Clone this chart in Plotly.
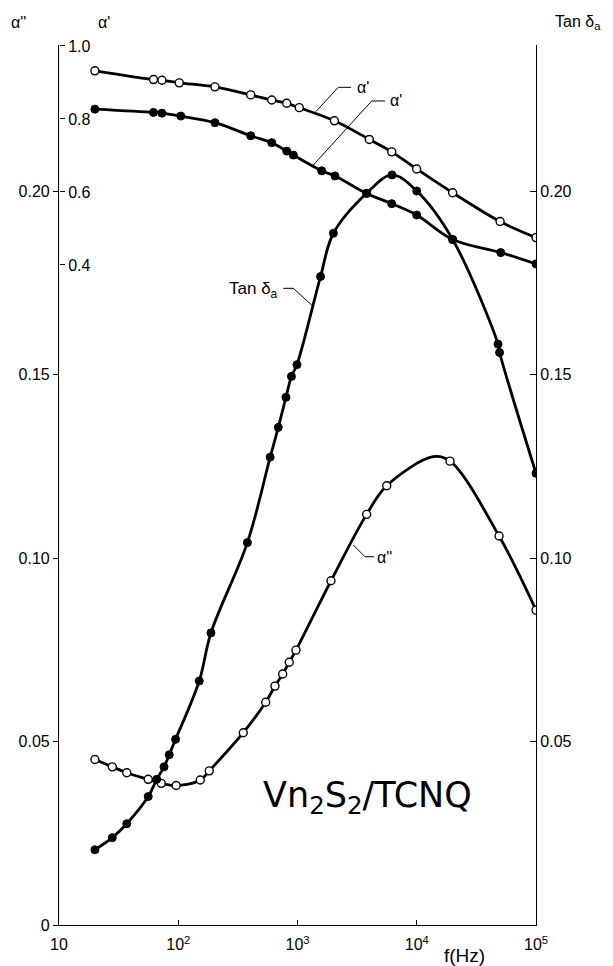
import plotly.graph_objects as go

# ---- data ----
tan_f = [20, 28, 37, 56, 66, 76, 84, 95, 150, 188, 380, 590, 690, 800, 890, 990,
         1560, 2000, 3800, 6200, 10000, 20000, 48000, 49500, 100000]
tan_v = [0.0205, 0.0238, 0.0276, 0.0350, 0.0397, 0.0431, 0.0464, 0.0506, 0.0665, 0.0796,
         0.1042, 0.1275, 0.1356, 0.1438, 0.1495, 0.1527, 0.1767, 0.1885, 0.1994, 0.2044,
         0.2000, 0.1868, 0.1583, 0.1560, 0.1231]

a2_f = [20, 28, 37, 56, 72, 96, 153, 182, 351, 541, 647, 751, 853, 971, 1909, 3800,
        5600, 19000, 49000, 100000]
a2_v = [0.0451, 0.0431, 0.0415, 0.0397, 0.0386, 0.0380, 0.0395, 0.0420, 0.0524, 0.0607,
        0.0651, 0.0684, 0.0716, 0.0749, 0.0938, 0.1119, 0.1197, 0.1264, 0.1060, 0.0858]
# apex of the drawn alpha'' curve (no marker there)
a2_apex_f = 13700
a2_apex_v = 0.1276

a1_filled_f = [20, 62, 73, 105, 203, 405, 608, 812, 923, 1595, 2063, 3800, 6165, 9980,
               20000, 50600, 100000]
a1_filled_v = [0.827, 0.818, 0.816, 0.808, 0.790, 0.754, 0.735, 0.712, 0.701, 0.658, 0.644,
               0.596, 0.568, 0.537, 0.470, 0.434, 0.403]

a1_open_f = [20, 62, 73, 102, 203, 405, 608, 812, 1035, 2040, 4000, 6165, 9980, 20000,
             50000, 100000]
a1_open_v = [0.932, 0.908, 0.906, 0.899, 0.888, 0.866, 0.852, 0.843, 0.831, 0.795, 0.744,
             0.710, 0.663, 0.598, 0.519, 0.475]

x_tickvals = [10, 100, 1000, 10000, 100000]
x_ticktext = ["10", "10<sup>2</sup>", "10<sup>3</sup>", "10<sup>4</sup>", "10<sup>5</sup>"]
left_tickvals = [0, 0.05, 0.10, 0.15, 0.20]
left_ticktext = ["0", "0.05", "0.10", "0.15", "0.20"]
right_tickvals = [0.05, 0.10, 0.15, 0.20]
right_ticktext = ["0.05", "0.10", "0.15", "0.20"]
ap_tickvals = [0.4, 0.6, 0.8, 1.0]
ap_ticktext = ["0.4", "0.6", "0.8", "1.0"]

FONT = "Liberation Sans"
BLK = "black"

# curve through the measured points, with the read apex added for alpha''
a2_line = sorted(list(zip(a2_f, a2_v)) + [(a2_apex_f, a2_apex_v)])
a2_line_f = [p[0] for p in a2_line]
a2_line_v = [p[1] for p in a2_line]

fig = go.Figure()

line = dict(color=BLK, width=2.8, shape="spline", smoothing=1.0)
filled = dict(symbol="circle", size=8, color=BLK, line=dict(color=BLK, width=1))
openm = dict(symbol="circle", size=8, color="white", line=dict(color=BLK, width=1.4))

fig.add_trace(go.Scatter(x=a1_open_f, y=a1_open_v, mode="lines+markers", line=line,
                         marker=openm, yaxis="y3", name="α' open"))
fig.add_trace(go.Scatter(x=a1_filled_f, y=a1_filled_v, mode="lines+markers", line=line,
                         marker=filled, yaxis="y3", name="α' filled"))
fig.add_trace(go.Scatter(x=a2_line_f, y=a2_line_v, mode="lines", line=line,
                         yaxis="y", name="α'' curve"))
fig.add_trace(go.Scatter(x=a2_f, y=a2_v, mode="markers",
                         marker=openm, yaxis="y", name="α''"))
fig.add_trace(go.Scatter(x=tan_f, y=tan_v, mode="lines+markers", line=line,
                         marker=filled, yaxis="y2", name="Tan δa"))

# plot area in page pixels: x 59..536, y 45..925 ; page body has an 8px margin
L, R, T, B = 59, 536, 45, 925
OFF = 8
W, H = 613 - OFF, 966 - OFF


def px(xp):
    return (xp - L) / (R - L)


def py(yp):
    return (B - yp) / (B - T)


yr = [0, 0.2398]

tickfont = dict(family=FONT, size=16, color=BLK)

fig.update_layout(
    width=W, height=H,
    margin=dict(l=L - OFF, r=613 - R, t=T - OFF, b=966 - B, pad=0, autoexpand=False),
    paper_bgcolor="white", plot_bgcolor="white",
    showlegend=False,
    font=dict(family=FONT, color=BLK, size=16),
    xaxis=dict(type="log", range=[1, 5], showgrid=False, zeroline=False,
               showline=True, linecolor=BLK, linewidth=1.2,
               ticks="inside", ticklen=5, tickcolor=BLK, ticklabelstandoff=5,
               tickvals=x_tickvals, ticktext=x_ticktext, tickfont=tickfont),
    yaxis=dict(range=yr, showgrid=False, zeroline=False,
               showline=True, linecolor=BLK, linewidth=1.2,
               ticks="outside", ticklen=5, tickcolor=BLK,
               tickvals=left_tickvals, ticktext=left_ticktext, tickfont=tickfont),
    yaxis2=dict(range=yr, overlaying="y", side="right", anchor="x",
                showgrid=False, zeroline=False,
                showline=True, linecolor=BLK, linewidth=1.2,
                ticks="inside", ticklen=6, tickcolor=BLK,
                tickvals=right_tickvals, ticktext=right_ticktext, tickfont=tickfont),
    yaxis3=dict(range=[-1.4082, 1.0027], overlaying="y", side="right",
                anchor="free", position=0,
                showgrid=False, zeroline=False, showline=False,
                ticks="outside", ticklen=5, tickcolor=BLK,
                tickvals=ap_tickvals, ticktext=ap_ticktext, tickfont=tickfont),
)

ann = []


def add_text(text, xp, yp, size=16, xanchor="center", family=FONT):
    ann.append(dict(text=text, x=px(xp), y=py(yp), xref="paper", yref="paper",
                    showarrow=False, xanchor=xanchor, yanchor="middle",
                    font=dict(family=family, size=size, color=BLK)))


add_text("α''", 18, 22)
add_text("α'", 104, 22)
add_text("Tan δ<sub>a</sub> ", 580, 22)
add_text("α'", 355, 87, xanchor="left")
add_text("α'", 388, 101, xanchor="left")
add_text("Tan δ<sub>a</sub>", 280, 290, size=17, xanchor="right")
add_text("α''", 375, 557, xanchor="left")
add_text("f(Hz)", 464, 955, size=19)
add_text("Vn<sub>2</sub>S<sub>2</sub>/TCNQ", 367, 797, size=35, family="DejaVu Sans")

fig.update_layout(annotations=ann)

shapes = []


def leader(points):
    path = "M " + " L ".join(f"{px(a):.4f},{py(b):.4f}" for a, b in points)
    shapes.append(dict(type="path", path=path, xref="paper", yref="paper",
                       line=dict(color=BLK, width=1)))


leader([(351, 87.3), (338.3, 87.3), (315.7, 111.7)])
leader([(385, 101), (371.7, 101), (313.3, 165)])
leader([(283.3, 288.3), (293.3, 288.3), (311.7, 305)])
leader([(374, 556.7), (365, 556.7), (353.3, 545)])

fig.update_layout(shapes=shapes)

fig.write_html("out.html")
